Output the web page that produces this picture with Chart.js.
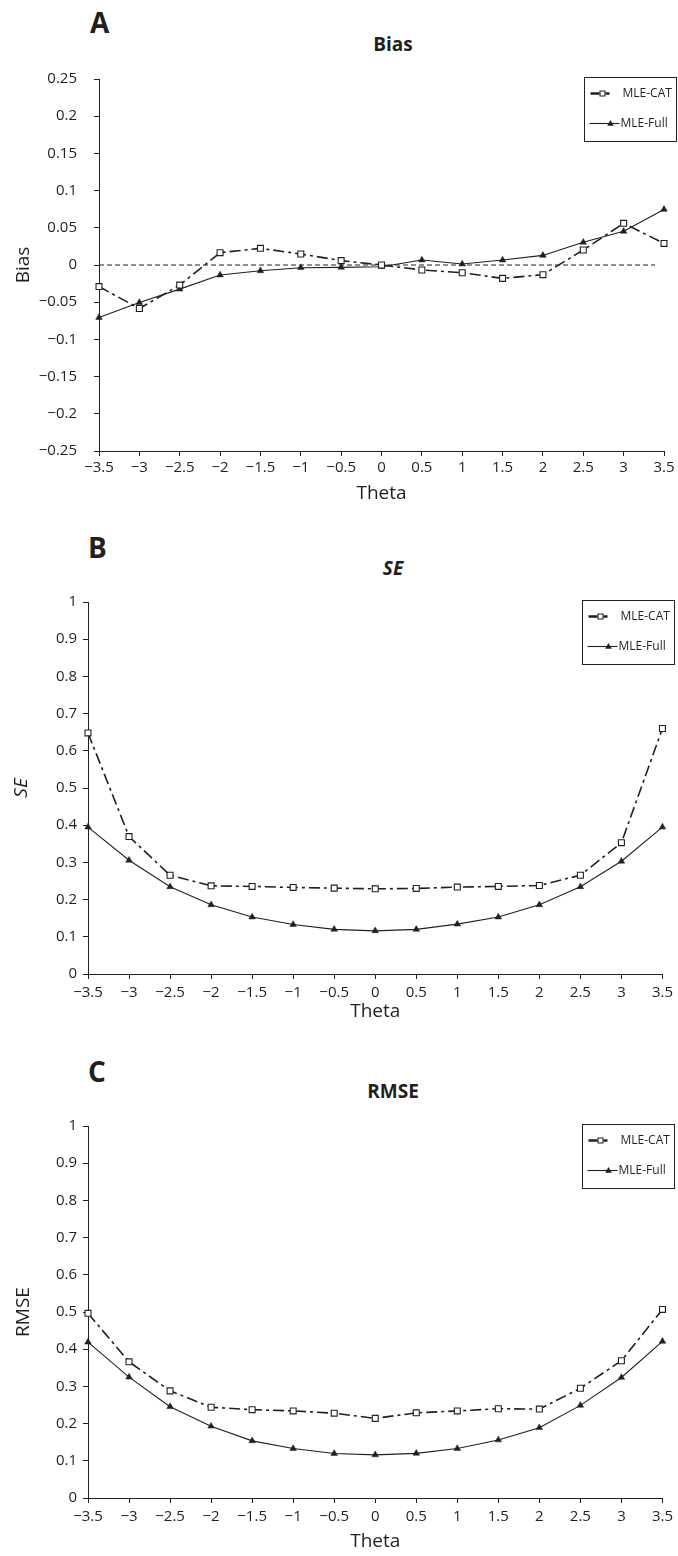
<!DOCTYPE html>
<html>
<head>
<meta charset="utf-8">
<script src="https://cdn.jsdelivr.net/npm/chart.js"></script>
<style>
  body { margin: 0; background: #fff; }
  #page { position: relative; width: 678px; height: 1556px; font-family: 'Open Sans', sans-serif; color: #231f20; }
  canvas { position: absolute; left: 0; }
  .lbl { position: absolute; font-weight: bold; line-height: 1; white-space: nowrap; }
  .ttl { position: absolute; width: 200px; text-align: center; font-weight: bold; font-size: 19px; line-height: 1; }
</style>
</head>
<body>
<div id="page">
  <div class="lbl" style="left:90px; top:8px; font-size:28px;">A</div>
  <div class="ttl" style="left:293px; top:35px;">Bias</div>
  <canvas id="chartA" width="678" height="520" style="top:0px"></canvas>

  <div class="lbl" style="left:88px; top:533px; font-size:28px;">B</div>
  <div class="ttl" style="left:293px; top:559px; font-style:italic;">SE</div>
  <canvas id="chartB" width="678" height="520" style="top:520px"></canvas>

  <div class="lbl" style="left:88px; top:1057px; font-size:28px;">C</div>
  <div class="ttl" style="left:293px; top:1082px;">RMSE</div>
  <canvas id="chartC" width="678" height="516" style="top:1040px"></canvas>
</div>
<script>
// theta values (x axis)
const theta = [-3.5, -3, -2.5, -2, -1.5, -1, -0.5, 0, 0.5, 1, 1.5, 2, 2.5, 3, 3.5];
const thetaTicks = [-3.5, -3, -2.5, -2, -1.5, -1, -0.5, 0, 0.5, 1, 1.5, 2, 2.5, 3, 3.5];
const biasTicks = [-0.25, -0.2, -0.15, -0.1, -0.05, 0, 0.05, 0.1, 0.15, 0.2, 0.25];
const unitTicks = [0, 0.1, 0.2, 0.3, 0.4, 0.5, 0.6, 0.7, 0.8, 0.9, 1];
const seriesNames = ['MLE-CAT', 'MLE-Full'];

// A: Bias
const biasCat = [-0.029, -0.0585, -0.027, 0.0166, 0.0224, 0.0148, 0.0059, 0, -0.0067, -0.0104, -0.018, -0.013, 0.0202, 0.056, 0.029];
const biasFull = [-0.0706, -0.0504, -0.0324, -0.0135, -0.0077, -0.0036, -0.0032, -0.0023, 0.0067, 0.0013, 0.0067, 0.0129, 0.0305, 0.0453, 0.0747];
const zeroX = [-3.5, 3.39];
const zeroY = [0, 0];

// B: SE
const seCat = [0.648, 0.3695, 0.2655, 0.237, 0.2354, 0.2327, 0.2308, 0.229, 0.23, 0.2336, 0.2354, 0.238, 0.2655, 0.353, 0.66];
const seFull = [0.395, 0.3057, 0.2345, 0.186, 0.153, 0.133, 0.12, 0.116, 0.12, 0.134, 0.153, 0.186, 0.2345, 0.303, 0.395];

// C: RMSE
const rmseCat = [0.4964, 0.366, 0.288, 0.244, 0.2375, 0.234, 0.228, 0.214, 0.229, 0.234, 0.24, 0.239, 0.295, 0.369, 0.507];
const rmseFull = [0.419, 0.325, 0.2455, 0.193, 0.1536, 0.133, 0.1196, 0.116, 0.12, 0.133, 0.156, 0.189, 0.249, 0.324, 0.421];

const INK = '#231f20';
const CAT_DASH = [11, 4, 3, 4];
Chart.defaults.font.family = "'Open Sans', sans-serif";
Chart.defaults.color = INK;

function fmt(v) {
  return (v < 0 ? '\u2212' : '') + String(Math.abs(v));
}

function pts(xs, ys) {
  return xs.map((x, i) => ({ x: x, y: ys[i] }));
}

// little square/triangle markers for the legend box
function marker(ctx, style, x, y) {
  ctx.setLineDash([]);
  ctx.lineWidth = 1.1;
  ctx.strokeStyle = INK;
  ctx.beginPath();
  if (style === 'rect') {
    ctx.fillStyle = '#fff';
    ctx.rect(x - 2.5, y - 2.5, 5, 5);
    ctx.fill();
    ctx.stroke();
  } else {
    ctx.fillStyle = INK;
    ctx.moveTo(x, y - 3.5);
    ctx.lineTo(x + 3.3, y + 2.3);
    ctx.lineTo(x - 3.3, y + 2.3);
    ctx.closePath();
    ctx.fill();
  }
}

const boxLegend = {
  id: 'boxLegend',
  afterDraw(chart, args, opts) {
    const { ctx, chartArea } = chart;
    const x0 = Math.round(chartArea.right + opts.dx) + 0.5;
    const y0 = Math.round(chartArea.top + opts.dy) + 0.5;
    const w = 92, h = 64;
    ctx.save();
    ctx.fillStyle = '#fff';
    ctx.fillRect(x0, y0, w, h);
    ctx.strokeStyle = INK;
    ctx.lineWidth = 1;
    ctx.setLineDash([]);
    ctx.strokeRect(x0, y0, w, h);

    // MLE-CAT sample
    let y = y0 + 16;
    ctx.lineWidth = 2.4;
    ctx.beginPath();
    ctx.moveTo(x0 + 6, y); ctx.lineTo(x0 + 15, y);
    ctx.moveTo(x0 + 21, y); ctx.lineTo(x0 + 25, y);
    ctx.stroke();
    marker(ctx, 'rect', x0 + 18, y);

    // MLE-Full sample
    y = y0 + 46;
    ctx.lineWidth = 1.1;
    ctx.beginPath();
    ctx.moveTo(x0 + 5, y); ctx.lineTo(x0 + 35, y);
    ctx.stroke();
    marker(ctx, 'triangle', x0 + 26, y);

    ctx.fillStyle = INK;
    ctx.font = "12px 'Open Sans', sans-serif";
    ctx.textBaseline = 'middle';
    ctx.fillText(seriesNames[0], x0 + 38, y0 + 16);
    ctx.fillText(seriesNames[1], x0 + 36, y0 + 46);
    ctx.restore();
  }
};

function makeChart(id, cfg) {
  const datasets = [
    {
      label: seriesNames[0],
      data: pts(theta, cfg.cat),
      borderColor: INK,
      borderWidth: 1.6,
      borderDash: CAT_DASH,
      pointStyle: 'rect',
      pointRadius: 4.2,
      pointBorderWidth: 1.1,
      pointBackgroundColor: '#fff',
      pointBorderColor: INK,
      tension: 0,
      clip: false
    },
    {
      label: seriesNames[1],
      data: pts(theta, cfg.full),
      borderColor: INK,
      borderWidth: 1.1,
      pointStyle: 'triangle',
      pointRadius: 3.8,
      pointBorderWidth: 0.5,
      pointBackgroundColor: INK,
      pointBorderColor: INK,
      tension: 0,
      clip: false
    }
  ];
  if (cfg.zero) {
    datasets.push({
      label: 'zero',
      data: pts(zeroX, zeroY),
      borderColor: INK,
      borderWidth: 1,
      borderDash: [5, 3],
      pointRadius: 0,
      clip: false
    });
  }

  new Chart(document.getElementById(id), {
    type: 'line',
    data: { datasets: datasets },
    plugins: [boxLegend],
    options: {
      responsive: false,
      animation: false,
      devicePixelRatio: 1,
      layout: { padding: { top: cfg.top, right: 14, left: 0, bottom: 0 } },
      plugins: {
        legend: { display: false },
        tooltip: { enabled: false },
        boxLegend: { dx: -80, dy: -2 }
      },
      scales: {
        x: {
          type: 'linear',
          min: -3.5,
          max: 3.5,
          afterBuildTicks: s => { s.ticks = thetaTicks.map(v => ({ value: v })); },
          afterFit: s => { s.height = cfg.xh; },
          border: { display: true, color: INK, width: 1 },
          grid: { drawOnChartArea: false, drawTicks: true, tickLength: 5, color: INK },
          ticks: { font: { size: 15 }, color: INK, padding: cfg.xpad, maxRotation: 0, autoSkip: false, callback: v => fmt(v) },
          title: { display: true, text: 'Theta', font: { size: 19 }, color: INK, padding: { top: 0, bottom: cfg.tpad } }
        },
        y: {
          type: 'linear',
          min: cfg.yTicks[0],
          max: cfg.yTicks[cfg.yTicks.length - 1],
          afterBuildTicks: s => { s.ticks = cfg.yTicks.map(v => ({ value: v })); },
          afterFit: s => { s.width = cfg.yw; },
          border: { display: true, color: INK, width: 1 },
          grid: { drawOnChartArea: false, drawTicks: true, tickLength: 5, color: INK },
          ticks: { font: { size: 15 }, color: INK, padding: cfg.ypad, autoSkip: false, callback: v => fmt(v) },
          title: { display: true, text: cfg.ylabel, font: { size: 19, style: cfg.yitalic ? 'italic' : 'normal' }, color: INK, padding: { top: cfg.ytpad, bottom: 0 } }
        }
      }
    }
  });
}

makeChart('chartA', { cat: biasCat, full: biasFull, zero: true, yTicks: biasTicks, ylabel: 'Bias', top: 79, xh: 69, yw: 99, xpad: 3, ypad: 17, tpad: 15, ytpad: 12 });
makeChart('chartB', { cat: seCat, full: seFull, yTicks: unitTicks, ylabel: 'SE', yitalic: true, top: 82, xh: 66, yw: 88, xpad: 5, ypad: 6, tpad: 17, ytpad: 10 });
makeChart('chartC', { cat: rmseCat, full: rmseFull, yTicks: unitTicks, ylabel: 'RMSE', top: 86, xh: 58, yw: 88, xpad: 5, ypad: 6, tpad: 3, ytpad: 12 });
</script>
</body>
</html>
